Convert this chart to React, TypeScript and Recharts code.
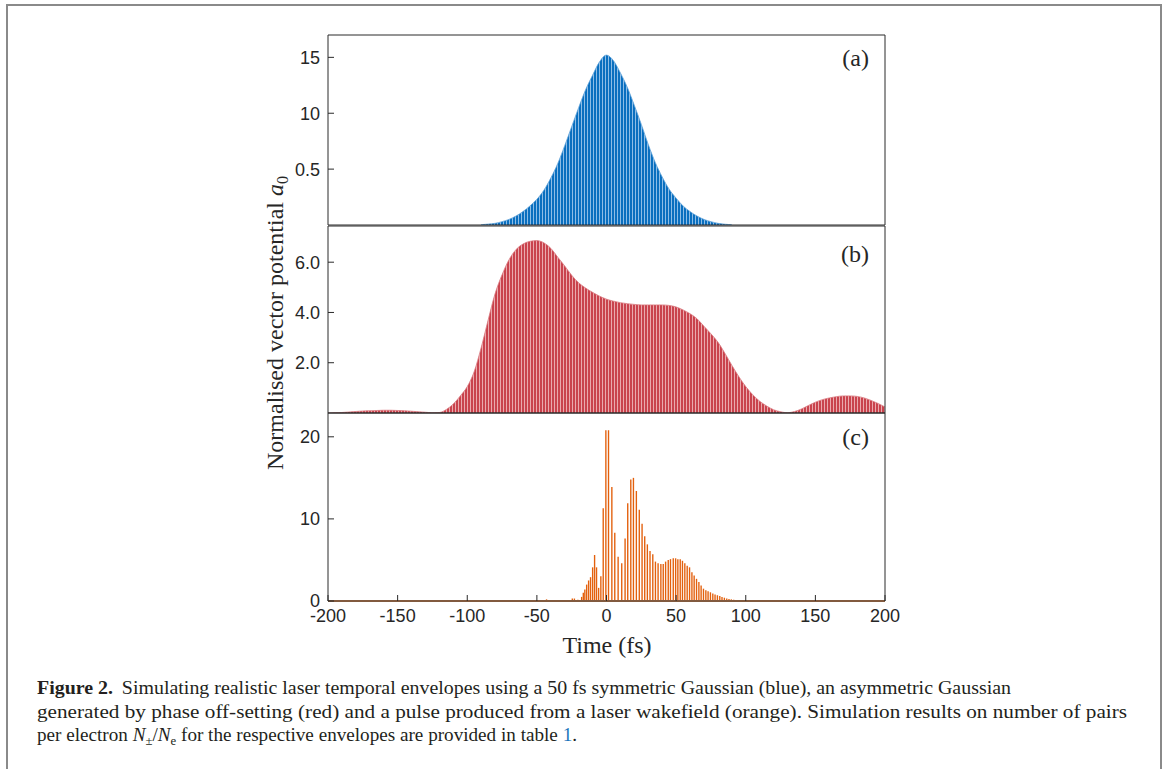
import React from 'react';
import { AreaChart, Area, ComposedChart, Bar, XAxis, YAxis, ReferenceLine } from 'recharts';

// shared time axis (fs)
const timeTicks = [-200, -150, -100, -50, 0, 50, 100, 150, 200];
const timeTickLabels = ['-200', '-150', '-100', '-50', '0', '50', '100', '150', '200'];

// (a) symmetric Gaussian envelope
const gaussTime = [-90, -85, -80, -75, -70, -65, -60, -55, -50, -45, -40, -35, -30, -25, -20, -15, -10, -5, 0,
  5, 10, 15, 20, 25, 30, 35, 40, 45, 50, 55, 60, 65, 70, 75, 80, 85, 90];
const gaussA0 = [0.03, 0.08, 0.15, 0.3, 0.5, 0.8, 1.2, 1.7, 2.3, 3.1, 4.2, 5.5, 7.1, 8.8, 10.5, 12.1, 13.4, 14.6, 15.2,
  14.7, 13.6, 12.3, 10.7, 9.0, 7.2, 5.6, 4.3, 3.2, 2.4, 1.7, 1.2, 0.8, 0.5, 0.3, 0.15, 0.07, 0.02];
const gaussTicks = [5, 10, 15];
const gaussTickLabels = ['0.5', '10', '15'];

// (b) asymmetric Gaussian (phase off-setting)
const asymTime = [-200, -195, -190, -185, -180, -175, -170, -165, -160, -155, -150, -145, -140, -135, -130, -125,
  -120, -115, -110, -105, -100, -95, -90, -85, -80, -75, -70, -65, -60, -55, -50, -45, -40, -35, -30, -25, -20, -15, -10, -5,
  0, 5, 10, 15, 20, 25, 30, 35, 40, 45, 50, 55, 60, 65, 70, 75, 80, 85, 90, 95, 100, 105, 110, 115, 120, 125, 130,
  135, 140, 145, 150, 155, 160, 165, 170, 175, 180, 185, 190, 195, 200];
const asymA0 = [0.0, 0.01, 0.02, 0.04, 0.06, 0.08, 0.09, 0.1, 0.11, 0.11, 0.1, 0.09, 0.07, 0.05, 0.03, 0.01,
  0.02, 0.14, 0.36, 0.68, 1.05, 1.65, 2.6, 3.7, 4.75, 5.5, 6.1, 6.5, 6.72, 6.83, 6.86, 6.77, 6.55, 6.2, 5.85, 5.48, 5.18, 4.97, 4.8, 4.65,
  4.53, 4.45, 4.39, 4.35, 4.32, 4.3, 4.3, 4.3, 4.3, 4.28, 4.22, 4.1, 3.95, 3.75, 3.45, 3.15, 2.82, 2.38, 1.9, 1.45, 1.05, 0.73, 0.47, 0.28, 0.13, 0.05, 0.01,
  0.06, 0.16, 0.3, 0.43, 0.53, 0.6, 0.65, 0.68, 0.68, 0.66, 0.6, 0.5, 0.38, 0.24];
const asymTicks = [2, 4, 6];
const asymTickLabels = ['2.0', '4.0', '6.0'];

// (c) laser wakefield pulse, one entry per visible spike
const wakeTime = [-43, -24.5, -23, -20.5, -17.8, -16.6, -15.5, -14.2, -12.8, -11.4, -9.9, -8.5, -7.1, -5.6, -4.0, -2.3, -0.4,
  1.5, 3.9, 6.0, 8.4, 11.0, 13.4, 15.3, 17.5, 19.4, 21.5, 23.6, 25.6, 27.5, 29.4, 31.3, 33.3, 35.2, 37.1, 39.1, 40.8,
  42.5, 44.4, 46.0, 48.0, 49.7, 51.3, 53.0, 54.6, 56.3, 58.0, 59.7, 61.4, 63.0, 64.7, 66.4, 68.0, 69.7, 71.4, 73.0,
  74.7, 76.4, 78.0, 79.7, 81.4, 83.0, 84.7, 86.4, 88.0, 89.7, 91.4, 93.0, 94.7, 96.4, 98.0];
const wakeA0 = [0.2, 0.3, 0.3, 0.15, 0.5, 1.0, 1.4, 2.0, 2.5, 2.9, 4.1, 5.6, 4.1, 1.6, 3.0, 11.3, 20.8,
  20.8, 13.9, 8.3, 5.4, 4.6, 7.6, 11.9, 14.8, 15.0, 13.4, 11.1, 9.4, 7.9, 6.9, 6.1, 5.7, 4.8, 4.6, 4.5, 4.5,
  4.8, 5.0, 5.1, 5.2, 5.2, 5.1, 5.1, 4.9, 4.6, 4.3, 4.1, 3.5, 3.1, 2.7, 2.3, 1.9, 1.5, 1.3, 1.2,
  1.06, 0.9, 0.8, 0.7, 0.6, 0.5, 0.4, 0.3, 0.25, 0.2, 0.15, 0.12, 0.08, 0.05, 0.03];
const wakeTicks = [0, 10, 20];
const wakeTickLabels = ['0', '10', '20'];

const gaussData = gaussTime.map((t, i) => ({ t, a0: gaussA0[i] }));
const asymData = asymTime.map((t, i) => ({ t, a0: asymA0[i] }));
const wakeData = wakeTime.map((t, i) => ({ t, a0: wakeA0[i] }));

const axisColor = '#2a2a2a';
const lineStyle = { stroke: axisColor, strokeWidth: 1 };
const tickFont = { fontFamily: 'Liberation Sans', fontSize: 18, fill: '#262626' };
const serif = '"Liberation Serif", "Times New Roman", serif';

const CHART_LEFT = 240;
const CHART_WIDTH = 686;
const margin = { top: 4, right: 40, bottom: 4, left: 10 };

// box with inward ticks on all four sides, like the matlab axes
function frame(yMax: number, yTicks: number[], yLabels: string[], showTime: boolean) {
  const yFmt = (v: number) => yLabels[yTicks.indexOf(v)] ?? '';
  const xFmt = (v: number) => timeTickLabels[timeTicks.indexOf(v)] ?? '';
  return [
    <XAxis key="xb" xAxisId="b" dataKey="t" type="number" domain={[-200, 200]} ticks={timeTicks}
      allowDataOverflow interval={0} orientation="bottom" height={showTime ? 30 : 1}
      axisLine={lineStyle} tickLine={lineStyle} tickSize={-6} tickMargin={14}
      tick={showTime ? tickFont : false} tickFormatter={xFmt} />,
    <XAxis key="xt" xAxisId="t" dataKey="t" type="number" domain={[-200, 200]} ticks={timeTicks}
      allowDataOverflow interval={0} orientation="top" height={1}
      axisLine={lineStyle} tickLine={lineStyle} tickSize={-6} tick={false} />,
    <YAxis key="yl" yAxisId="l" type="number" domain={[0, yMax]} ticks={yTicks} allowDataOverflow interval={0}
      orientation="left" width={78} axisLine={lineStyle} tickLine={lineStyle} tickSize={-6} tickMargin={14}
      tick={tickFont} tickFormatter={yFmt} />,
    <YAxis key="yr" yAxisId="r" type="number" domain={[0, yMax]} ticks={yTicks} allowDataOverflow interval={0}
      orientation="right" width={1} axisLine={lineStyle} tickLine={lineStyle} tickSize={-6} tick={false} />,
  ];
}

const panelTag = (txt: string, top: number) => (
  <div style={{ position: 'absolute', right: 1174 - 869, top: top - 15, fontFamily: serif, fontSize: 24, color: '#262626', lineHeight: '30px' }}>
    {txt}
  </div>
);

export default function App() {
  return (
    <div style={{ position: 'absolute', left: 0, top: 0, width: 1174, height: 769, overflow: 'hidden', background: '#fff' }}>
      <div style={{ position: 'absolute', left: 6, top: 4, width: 1156, height: 900, boxSizing: 'border-box',
        borderTop: '2px solid #8a8a8a', borderLeft: '2px solid #8a8a8a', borderRight: '2px solid #8a8a8a' }} />

      {/* (a) plot area 35..226 */}
      <div style={{ position: 'absolute', left: CHART_LEFT, top: 30 }}>
        <AreaChart width={CHART_WIDTH} height={200} data={gaussData} margin={margin}>
          <defs>
            <pattern id="blueStripes" patternUnits="userSpaceOnUse" width="3" height="8">
              <rect x="0" y="0" width="3" height="8" fill="#8dbde6" />
              <rect x="0" y="0" width="2" height="8" fill="#0a6fbf" />
            </pattern>
          </defs>
          {frame(17.0, gaussTicks, gaussTickLabels, false)}
          <Area xAxisId="b" yAxisId="l" type="monotone" dataKey="a0" fill="url(#blueStripes)" fillOpacity={1}
            stroke="#5a9fd8" strokeWidth={0.8} isAnimationActive={false} />
        </AreaChart>
      </div>

      {/* (b) plot area 226..413 */}
      <div style={{ position: 'absolute', left: CHART_LEFT, top: 221 }}>
        <AreaChart width={CHART_WIDTH} height={197} data={asymData} margin={margin}>
          <defs>
            <pattern id="redStripes" patternUnits="userSpaceOnUse" width="3" height="8">
              <rect x="0" y="0" width="3" height="8" fill="#eaa9ad" />
              <rect x="0" y="0" width="2" height="8" fill="#c9434d" />
            </pattern>
          </defs>
          {frame(7.44, asymTicks, asymTickLabels, false)}
          <Area xAxisId="b" yAxisId="l" type="monotone" dataKey="a0" fill="url(#redStripes)" fillOpacity={1}
            stroke="#d97a80" strokeWidth={0.8} isAnimationActive={false} />
        </AreaChart>
      </div>

      {/* (c) plot area 413..601 */}
      <div style={{ position: 'absolute', left: CHART_LEFT, top: 408 }}>
        <ComposedChart width={CHART_WIDTH} height={227} data={wakeData} margin={margin}>
          {frame(22.9, wakeTicks, wakeTickLabels, true)}
          <ReferenceLine xAxisId="b" yAxisId="l" y={0} stroke="#d98a55" strokeWidth={2} />
          <Bar xAxisId="b" yAxisId="l" dataKey="a0" fill="#e3600d" barSize={1.6} isAnimationActive={false} />
        </ComposedChart>
      </div>

      {panelTag('(a)', 58)}
      {panelTag('(b)', 254)}
      {panelTag('(c)', 437)}

      <div style={{ position: 'absolute', left: 607, top: 645, transform: 'translate(-50%, -50%)', fontFamily: serif,
        fontSize: 24, color: '#262626', whiteSpace: 'nowrap' }}>
        Time (fs)
      </div>

      <div style={{ position: 'absolute', left: 276, top: 323, transform: 'translate(-50%, -50%) rotate(-90deg)',
        fontFamily: serif, fontSize: 24, color: '#262626', whiteSpace: 'nowrap', lineHeight: '28px' }}>
        Normalised vector potential <i>a</i><span style={{ fontSize: 16, position: 'relative', top: 5 }}>0</span>
      </div>

      <svg style={{ position: 'absolute', left: 0, top: 660 }} width={1174} height={100}>
        <g fontFamily={serif} fontSize={18} fill="#231f20">
          <text x={37} y={34} textLength={974} lengthAdjust="spacingAndGlyphs">
            <tspan fontWeight="bold">Figure 2.</tspan>
            <tspan dx={8}>Simulating realistic laser temporal envelopes using a 50 fs symmetric Gaussian (blue), an asymmetric Gaussian</tspan>
          </text>
          <text x={37} y={57.5} textLength={1090} lengthAdjust="spacingAndGlyphs">
            generated by phase off-setting (red) and a pulse produced from a laser wakefield (orange). Simulation results on number of pairs
          </text>
          <text x={37} y={81} textLength={540} lengthAdjust="spacingAndGlyphs">
            per electron <tspan fontStyle="italic">N</tspan>
            <tspan fontSize={12} dy={4}>±</tspan>
            <tspan dy={-4}>/</tspan>
            <tspan fontStyle="italic">N</tspan>
            <tspan fontSize={12} dy={4}>e</tspan>
            <tspan dy={-4}> for the respective envelopes are provided in table </tspan>
            <tspan fill="#1b75bc">1</tspan>
            <tspan>.</tspan>
          </text>
        </g>
      </svg>
    </div>
  );
}
